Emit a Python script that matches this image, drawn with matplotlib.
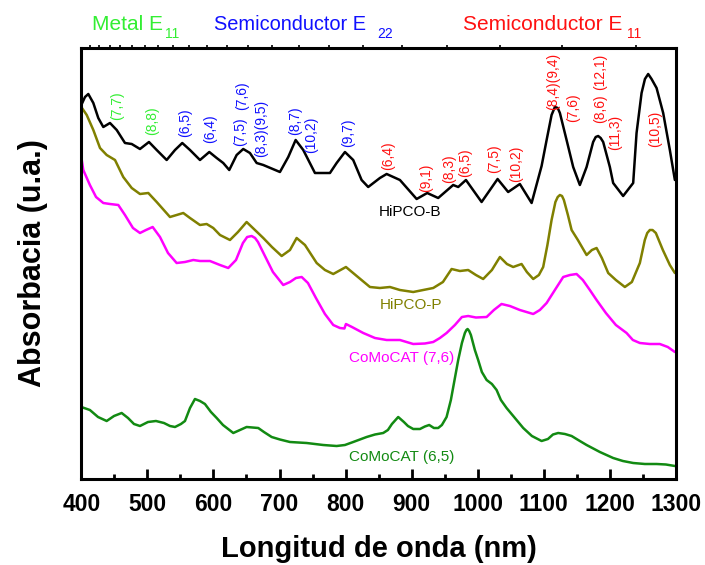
import numpy as np
import matplotlib
matplotlib.use("Agg")
import matplotlib.pyplot as plt
from matplotlib.ticker import MultipleLocator, FixedLocator, NullFormatter

plt.rcParams['font.family'] = ['Liberation Sans', 'DejaVu Sans']

# ---------------- spectra (wavelength in nm, absorbance in a.u., offset) -------------
wl_hipco_b = [400, 405.6, 410.6, 418.2, 425.7, 433.3, 443.4, 453.6, 466.1, 476.3, 488.8,
              502.4, 514.1, 529.2, 541.8, 552.8, 564.5, 579.6, 593.7, 604.9, 614.8, 623.9,
              635.1, 645.1, 655.2, 665.4, 675.4, 700.6, 713.2, 724.4, 735.9, 753.6, 776.3,
              786.4, 799.0, 811.5, 824.2, 834.2, 851.9, 862.1, 882.2, 907.5, 923.5, 940.1,
              962.8, 970.4, 982.1, 1005.8, 1030.0, 1046.0, 1063.7, 1081.5, 1096.6, 1104.2,
              1111.7, 1116.7, 1121.0, 1124.3, 1134.4, 1144.4, 1154.5, 1164.7, 1174.6, 1178.5,
              1182.2, 1186.0, 1189.8, 1199.9, 1204.9, 1220.0, 1235.2, 1240.3, 1247.9, 1253.0,
              1257.9, 1263.0, 1270.6, 1280.6, 1290.7, 1298.3]
ab_hipco_b = [3.74, 3.82, 3.85, 3.76, 3.61, 3.52, 3.56, 3.49, 3.36, 3.35, 3.30,
              3.37, 3.29, 3.19, 3.29, 3.36, 3.29, 3.19, 3.27, 3.21, 3.16, 3.09,
              3.24, 3.30, 3.26, 3.16, 3.14, 3.07, 3.22, 3.39, 3.29, 3.06, 3.06,
              3.16, 3.27, 3.19, 2.99, 2.92, 3.01, 3.05, 2.99, 2.80, 2.86, 2.81,
              2.94, 2.92, 2.99, 2.77, 3.00, 2.87, 2.95, 2.76, 3.13, 3.39,
              3.64, 3.72, 3.71, 3.66, 3.39, 3.12, 2.94, 3.12, 3.37, 3.42,
              3.43, 3.41, 3.37, 3.12, 2.96, 2.83, 2.96, 3.46, 3.86, 4.00,
              4.05, 4.00, 3.91, 3.66, 3.29, 2.99]

wl_hipco_p = [400, 408.2, 418.2, 428.3, 438.4, 451.0, 463.5, 476.3, 488.8, 501.4, 514.1,
              534.2, 544.3, 554.3, 564.5, 579.6, 589.7, 599.7, 609.9, 625.0, 637.1, 650.2,
              662.8, 675.4, 688.5, 703.2, 715.8, 725.9, 738.5, 756.2, 768.7, 781.3, 800.5,
              818.6, 836.8, 851.9, 867.1, 882.2, 902.3, 932.6, 947.3, 960.4, 973.0, 985.5,
              997.2, 1008.2, 1021.4, 1033.5, 1044.1, 1053.6, 1066.3, 1074.3, 1083.9, 1092.5,
              1099.0, 1105.4, 1111.7, 1117.5, 1121.0, 1124.3, 1127.5, 1130.3, 1136.4, 1142.0,
              1151.5, 1164.7, 1172.7, 1179.8, 1187.8, 1197.4, 1209.0, 1222.6, 1233.2, 1245.3,
              1252.8, 1256.5, 1260.4, 1264.5, 1269.5, 1280.1, 1290.7, 1298.3]
ab_hipco_p = [3.72, 3.64, 3.49, 3.31, 3.24, 3.19, 3.02, 2.91, 2.85, 2.86, 2.77,
              2.62, 2.64, 2.66, 2.61, 2.54, 2.55, 2.51, 2.44, 2.39, 2.47, 2.57,
              2.49, 2.41, 2.32, 2.23, 2.29, 2.41, 2.34, 2.16, 2.09, 2.05, 2.12,
              2.02, 1.92, 1.91, 1.92, 1.89, 1.87, 1.91, 1.97, 2.10, 2.08, 2.09,
              2.04, 2.00, 2.09, 2.22, 2.15, 2.12, 2.15, 2.07, 2.00, 2.04,
              2.12, 2.34, 2.59, 2.77, 2.82, 2.84, 2.83, 2.79, 2.64, 2.49,
              2.39, 2.24, 2.29, 2.31, 2.21, 2.06, 1.99, 1.92, 1.97, 2.16,
              2.39, 2.46, 2.49, 2.49, 2.46, 2.29, 2.14, 2.06]

wl_comocat76 = [400, 403.0, 413.0, 422.3, 433.3, 443.4, 456.0, 466.1, 478.2, 488.8, 497.9,
                508.0, 519.1, 531.2, 544.3, 556.9, 569.5, 579.6, 594.7, 609.9, 622.4, 634.1,
                644.6, 651.0, 657.8, 663.0, 667.4, 677.9, 690.0, 705.6, 715.8, 724.8, 733.5,
                743.0, 755.1, 768.7, 781.3, 791.4, 798.2, 800.5, 809.6, 826.7, 844.4, 862.1,
                882.2, 902.3, 920.0, 932.6, 942.7, 952.8, 965.4, 976.0, 985.5, 997.2, 1013.4,
                1024.4, 1036.0, 1048.6, 1063.7, 1083.9, 1094.0, 1104.2, 1116.7, 1129.3, 1139.5,
                1149.5, 1159.0, 1169.6, 1179.8, 1193.9, 1209.0, 1225.2, 1234.7, 1245.3, 1260.4,
                1275.5, 1287.6, 1298.3]
ab_comocat76 = [3.22, 3.09, 2.94, 2.82, 2.76, 2.75, 2.74, 2.64, 2.51, 2.46, 2.49,
                2.52, 2.42, 2.26, 2.16, 2.17, 2.19, 2.18, 2.18, 2.14, 2.11, 2.19,
                2.36, 2.42, 2.43, 2.41, 2.37, 2.23, 2.07, 1.94, 1.97, 2.01, 2.02,
                1.96, 1.81, 1.65, 1.54, 1.51, 1.505, 1.55, 1.52, 1.46, 1.41, 1.39,
                1.39, 1.35, 1.355, 1.37, 1.41, 1.46, 1.54, 1.62, 1.63, 1.615, 1.62,
                1.69, 1.75, 1.73, 1.69, 1.65, 1.69, 1.76, 1.89, 2.02, 2.04,
                2.05, 1.99, 1.89, 1.79, 1.66, 1.54, 1.46, 1.39, 1.36, 1.35,
                1.35, 1.32, 1.27]

wl_comocat65 = [400, 413.0, 425.3, 438.4, 449.5, 461.1, 470.7, 479.7, 488.8, 500.9, 513.0,
                525.1, 534.2, 541.8, 550.8, 556.9, 564.5, 572.0, 579.6, 587.1, 596.2, 604.9,
                614.4, 630.0, 640.1, 650.2, 667.8, 676.4, 688.1, 700.6, 715.8, 741.0, 766.1,
                786.4, 799.0, 811.5, 831.8, 844.4, 856.9, 864.0, 870.1, 879.6, 888.2, 894.3,
                902.3, 912.5, 920.0, 926.5, 933.6, 940.1, 945.7, 952.8, 959.3, 965.4, 970.4,
                976.0, 980.5, 982.8, 984.6, 987.0, 989.6, 995.6, 1000.6, 1006.2, 1013.4, 1021.4,
                1028.5, 1035.0, 1043.6, 1056.2, 1068.8, 1081.9, 1096.6, 1106.2, 1113.8, 1121.7,
                1131.9, 1142.0, 1154.5, 1164.7, 1184.8, 1204.9, 1219.6, 1235.2, 1252.9, 1270.6,
                1284.7, 1298.3]
ab_comocat65 = [0.72, 0.69, 0.62, 0.58, 0.63, 0.66, 0.61, 0.55, 0.53, 0.57, 0.58,
                0.56, 0.53, 0.52, 0.55, 0.58, 0.71, 0.80, 0.78, 0.75, 0.67, 0.61,
                0.54, 0.46, 0.49, 0.52, 0.51, 0.47, 0.42, 0.395, 0.37, 0.36, 0.34,
                0.33, 0.34, 0.37, 0.42, 0.445, 0.46, 0.49, 0.55, 0.62, 0.57, 0.53,
                0.50, 0.50, 0.525, 0.54, 0.51, 0.51, 0.54, 0.62, 0.79, 1.01, 1.19,
                1.36, 1.46, 1.49, 1.50, 1.48, 1.44, 1.29, 1.19, 1.07, 0.99, 0.95,
                0.89, 0.79, 0.71, 0.61, 0.51, 0.43, 0.38, 0.40, 0.445, 0.46,
                0.45, 0.43, 0.38, 0.34, 0.27, 0.21, 0.18, 0.16, 0.15, 0.15,
                0.145, 0.13]

series_names = ["HiPCO-B", "HiPCO-P", "CoMoCAT (7,6)", "CoMoCAT (6,5)"]

# chirality assignments (n,m)
metal_e11 = ["(7,7)", "(8,8)"]
semi_e22 = ["(6,5)", "(6,4)", "(7,5)", "(7,6)", "(8,3)(9,5)", "(8,7)", "(10,2)", "(9,7)"]
semi_e11 = ["(6,4)", "(9,1)", "(8,3)", "(6,5)", "(7,5)", "(10,2)", "(8,4)(9,4)",
            "(7,6)", "(8,6)", "(12,1)", "(11,3)", "(10,5)"]

# ---------------- layout / style -------------
W, H = 705, 565
fig = plt.figure(figsize=(W / 100, H / 100), dpi=100)
ax = fig.add_axes([81.3 / W, 1 - 479 / H, (676 - 81.3) / W, (479 - 48) / H])

c_black = "#000000"
c_olive = "#808000"
c_mag = "#ff00ff"
c_green = "#128a12"
c_metal = "#33ee33"
c_blue = "#1010ff"
c_red = "#ff1010"

lw = 1.8
for wl, ab, c in [(wl_hipco_b, ab_hipco_b, c_black), (wl_hipco_p, ab_hipco_p, c_olive),
                  (wl_comocat76, ab_comocat76, c_mag), (wl_comocat65, ab_comocat65, c_green)]:
    ax.plot(wl, ab, color=c, lw=lw, solid_joinstyle="round", solid_capstyle="round")

ax.set_xlim(400, 1300)
ax.set_ylim(0, 4.31)

for s in ax.spines.values():
    s.set_linewidth(2.2)

ax.xaxis.set_major_locator(MultipleLocator(100))
ax.xaxis.set_minor_locator(MultipleLocator(50))
ax.tick_params(axis="x", which="major", direction="in", length=7, width=2,
               top=False, bottom=True, pad=10, labelsize=16.5)
ax.tick_params(axis="x", which="minor", direction="in", length=3.5, width=2,
               top=False, bottom=True)
ax.tick_params(axis="y", left=False, right=False, labelleft=False)
for lab in ax.get_xticklabels():
    lab.set_fontweight("bold")

# photon-energy ticks along the top edge
top = ax.secondary_xaxis("top", functions=(lambda x: 1239.84 / np.maximum(x, 1e-6),
                                           lambda e: 1239.84 / np.maximum(e, 1e-6)))
top.xaxis.set_major_locator(FixedLocator(np.round(np.arange(1.0, 3.11, 0.1), 2)))
top.xaxis.set_major_formatter(NullFormatter())
top.tick_params(direction="out", length=2, width=1.2)
top.spines["top"].set_visible(False)

ax.set_xlabel("Longitud de onda (nm)", fontsize=21, fontweight="bold", labelpad=14)
ax.set_ylabel("Absorbacia (u.a.)", fontsize=22, fontweight="bold", labelpad=24)

# ---------------- curve names -------------
name_pos = [(897, 2.67), (898.5, 1.74), (885, 1.21), (885, 0.22)]
name_col = [c_black, c_olive, c_mag, c_green]
for name, (x, y), c in zip(series_names, name_pos, name_col):
    ax.text(x, y, name, color=c, fontsize=11, ha="center", va="center")

# ---------------- chirality labels -------------
lab_fs = 10
metal_pos = [(453.6, 3.59), (506.5, 3.44)]
e22_pos = [(556.9, 3.42), (594.7, 3.36), (640.1, 3.33), (642.7, 3.69), (671.4, 3.22),
           (723.3, 3.44), (747.1, 3.26), (804.0, 3.32)]
e11_pos = [(864.5, 3.09), (921.5, 2.87), (956.8, 2.96), (980.5, 3.02), (1024.4, 3.06),
           (1058.8, 2.97), (1114.1, 3.69), (1144.4, 3.57), (1184.8, 3.56), (1184.8, 3.89),
           (1207.5, 3.29), (1268.0, 3.32)]
for labels, pos, c in [(metal_e11, metal_pos, c_metal), (semi_e22, e22_pos, c_blue),
                       (semi_e11, e11_pos, c_red)]:
    for t, (x, y) in zip(labels, pos):
        ax.text(x, y, t, color=c, fontsize=lab_fs, rotation=90,
                ha="center", va="bottom")

# ---------------- transition headers -------------
headers = [("Metal E", "11", 91.7, 164.5, c_metal, 15),
           ("Semiconductor E", "22", 214.0, 377.0, c_blue, 14.4),
           ("Semiconductor E", "11", 463.3, 626.5, c_red, 15)]
for main, sub, x0, xs, c, fs in headers:
    fig.text(x0 / W, 1 - 30 / H, main, color=c, fontsize=fs, ha="left", va="baseline")
    fig.text(xs / W, 1 - 38.5 / H, sub, color=c, fontsize=10, ha="left", va="baseline")

fig.savefig("out.png", dpi=100)
